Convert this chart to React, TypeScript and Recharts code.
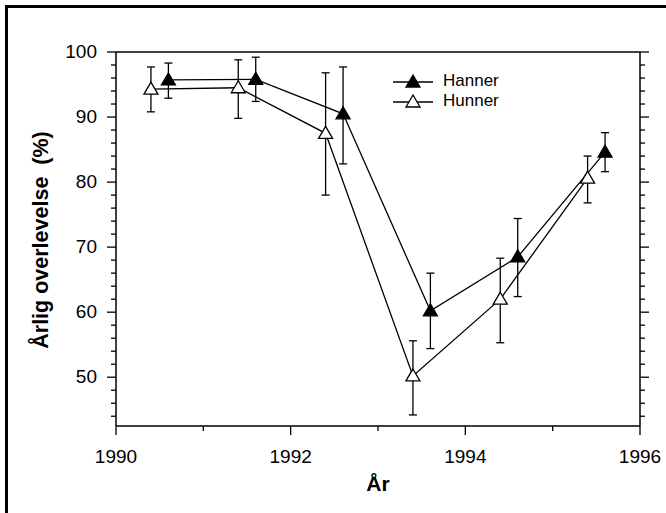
import React from "react";
import { ComposedChart, Line, XAxis, YAxis, ErrorBar } from "recharts";

// survival per year, males (Hanner) plotted at x.6, females (Hunner) at x.4
const hannerYears = [1990.6, 1991.6, 1992.6, 1993.6, 1994.6, 1995.6];
const hanner = [95.7, 95.8, 90.5, 60.2, 68.5, 84.6];
const hannerLow = [92.9, 92.4, 82.8, 54.4, 62.4, 81.6];
const hannerHigh = [98.3, 99.2, 97.7, 66.0, 74.4, 87.6];

const hunnerYears = [1990.4, 1991.4, 1992.4, 1993.4, 1994.4, 1995.4];
const hunner = [94.3, 94.5, 87.5, 50.2, 62.0, 80.6];
const hunnerLow = [90.8, 89.8, 78.0, 44.2, 55.3, 76.8];
const hunnerHigh = [97.7, 98.8, 96.8, 55.6, 68.3, 84.0];

const xTicks = [1990, 1991, 1992, 1993, 1994, 1995, 1996];
const yTicks = [44, 46, 48, 50, 52, 54, 56, 58, 60, 62, 64, 66, 68, 70, 72, 74, 76, 78, 80, 82, 84, 86, 88, 90, 92, 94, 96, 98, 100];

const build = (xs: number[], vs: number[], lo: number[], hi: number[]) =>
  xs.map((x, i) => ({ year: x, v: vs[i], err: [vs[i] - lo[i], hi[i] - vs[i]] }));

const hannerData = build(hannerYears, hanner, hannerLow, hannerHigh);
const hunnerData = build(hunnerYears, hunner, hunnerLow, hunnerHigh);

const FONT = "'Liberation Sans', Arial, Helvetica, sans-serif";

const Tri = (props: any) => {
  const { cx, cy, filled } = props;
  if (cx == null || cy == null) return null;
  return (
    <polygon
      points={`${cx},${cy - 7} ${cx - 7},${cy + 5} ${cx + 7},${cy + 5}`}
      fill={filled ? "#000" : "#fff"}
      stroke="#000"
      strokeWidth={1.3}
    />
  );
};

const BottomTick = (props: any) => {
  const { x, y, payload } = props;
  const major = payload.value % 2 === 0;
  return (
    <g>
      <line x1={x} y1={y} x2={x} y2={y + (major ? 9 : 5)} stroke="#000" strokeWidth={1.3} />
      {major && (
        <text x={x} y={y + 37} textAnchor="middle" fontSize={19} fontFamily={FONT} fill="#000">
          {payload.value}
        </text>
      )}
    </g>
  );
};

const TopTick = (props: any) => {
  const { x, y, payload } = props;
  const major = payload.value % 2 === 0;
  return <line x1={x} y1={y} x2={x} y2={y - (major ? 9 : 5)} stroke="#000" strokeWidth={1.3} />;
};

const LeftTick = (props: any) => {
  const { x, y, payload } = props;
  const major = payload.value % 10 === 0;
  return (
    <g>
      <line x1={x - (major ? 9 : 5)} y1={y} x2={x} y2={y} stroke="#000" strokeWidth={1.3} />
      {major && (
        <text x={x - 19} y={y + 6} textAnchor="end" fontSize={19} fontFamily={FONT} fill="#000">
          {payload.value}
        </text>
      )}
    </g>
  );
};

const RightTick = (props: any) => {
  const { x, y, payload } = props;
  const major = payload.value % 10 === 0;
  return <line x1={x} y1={y} x2={x + (major ? 9 : 5)} y2={y} stroke="#000" strokeWidth={1.3} />;
};

const legendItems = [
  { name: "Hanner", filled: true },
  { name: "Hunner", filled: false },
];

const LegendBox = () => (
  <div style={{ position: "absolute", left: 393, top: 71, fontFamily: FONT, fontSize: 17, color: "#000" }}>
    {legendItems.map((it) => (
      <div key={it.name} style={{ display: "flex", alignItems: "center", height: 20 }}>
        <svg width={40} height={16}>
          <line x1={0} y1={9} x2={40} y2={9} stroke="#000" strokeWidth={1.3} />
          <Tri cx={20} cy={9} filled={it.filled} />
        </svg>
        <span style={{ marginLeft: 10 }}>{it.name}</span>
      </div>
    ))}
  </div>
);

export default function App() {
  const axisLine = { stroke: "#000", strokeWidth: 1.5 };
  return (
    <div style={{ position: "absolute", left: 0, top: 0, width: 666, height: 513, background: "#fff", overflow: "hidden" }}>
      <div
        style={{
          position: "absolute",
          left: 5,
          top: 5,
          width: 800,
          height: 700,
          borderLeft: "3px solid #000",
          borderTop: "3px solid #000",
        }}
      />
      <div style={{ position: "absolute", left: 0, top: 0 }}>
        <ComposedChart width={666} height={513} margin={{ top: 42, right: 16, bottom: 47, left: 56 }}>
          <XAxis
            dataKey="year"
            type="number"
            domain={[1990, 1996]}
            ticks={xTicks}
            tickLine={false}
            tickSize={0}
            tickMargin={0}
            axisLine={axisLine}
            tick={<BottomTick />}
            height={40}
            interval={0}
          />
          <XAxis
            xAxisId="top"
            orientation="top"
            type="number"
            domain={[1990, 1996]}
            ticks={xTicks}
            tickLine={false}
            tickSize={0}
            tickMargin={0}
            axisLine={axisLine}
            tick={<TopTick />}
            height={10}
            interval={0}
          />
          <YAxis
            type="number"
            domain={[42.5, 100]}
            ticks={yTicks}
            allowDataOverflow
            tickLine={false}
            tickSize={0}
            tickMargin={0}
            axisLine={axisLine}
            tick={<LeftTick />}
            width={60}
            interval={0}
          />
          <YAxis
            yAxisId="right"
            orientation="right"
            type="number"
            domain={[42.5, 100]}
            ticks={yTicks}
            allowDataOverflow
            tickLine={false}
            tickSize={0}
            tickMargin={0}
            axisLine={axisLine}
            tick={<RightTick />}
            width={10}
            interval={0}
          />
          <Line
            data={hunnerData}
            dataKey="v"
            name="Hunner"
            stroke="#000"
            strokeWidth={1.3}
            isAnimationActive={false}
            dot={<Tri filled={false} />}
            activeDot={false}
          >
            <ErrorBar dataKey="err" direction="y" width={4} stroke="#000" strokeWidth={1.3} />
          </Line>
          <Line
            data={hannerData}
            dataKey="v"
            name="Hanner"
            stroke="#000"
            strokeWidth={1.3}
            isAnimationActive={false}
            dot={<Tri filled />}
            activeDot={false}
          >
            <ErrorBar dataKey="err" direction="y" width={4} stroke="#000" strokeWidth={1.3} />
          </Line>
        </ComposedChart>
      </div>
      <LegendBox />
      <div
        style={{
          position: "absolute",
          left: 41,
          top: 240,
          transform: "translate(-50%, -50%) rotate(-90deg)",
          whiteSpace: "pre",
          fontFamily: FONT,
          fontWeight: "bold",
          fontSize: 21.5,
          color: "#000",
        }}
      >
        {"Årlig overlevelse  (%)"}
      </div>
      <div
        style={{
          position: "absolute",
          left: 378,
          top: 484,
          transform: "translate(-50%, -50%)",
          fontFamily: FONT,
          fontWeight: "bold",
          fontSize: 21,
          color: "#000",
        }}
      >
        År
      </div>
    </div>
  );
}
